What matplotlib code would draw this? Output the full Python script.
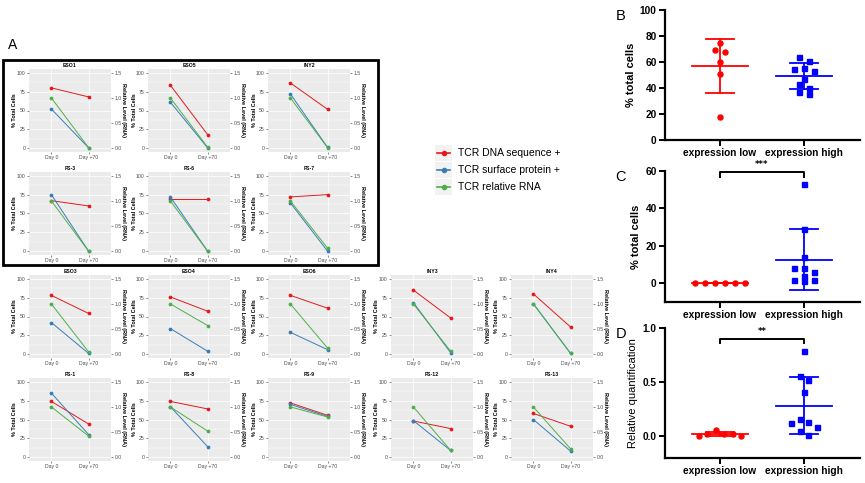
import matplotlib
matplotlib.use("Agg")
import matplotlib.pyplot as plt
from matplotlib.patches import Rectangle
from matplotlib.lines import Line2D
import numpy as np

W, H = 865, 483

# ---------------- data: panel A ----------------
samples = ["ESO1", "ESO5", "INY2", "FS-3", "FS-6", "FS-7",
           "ESO3", "ESO4", "ESO6", "INY3", "INY4",
           "FS-1", "FS-8", "FS-9", "FS-12", "FS-13"]
days = ["Day 0", "Day +70"]
dna_day0 = [80, 83.5, 86.5, 67, 69, 72, 78, 76, 78, 85, 80, 74, 74, 72, 48, 58]
dna_day70 = [68, 18, 51.5, 60, 69, 75, 54, 57, 61, 48, 36, 44, 64, 55.5, 38, 41]
prot_day0 = [52, 61, 72, 75, 72, 64, 42, 34, 29, 68.5, 67, 85, 67, 70, 48.5, 50]
prot_day70 = [0.5, 0.5, 1, 0, 0, 0, 1, 4, 6, 2, 1, 30, 14, 54, 9, 8]
rna_day0 = [1.0] * 16
rna_day70 = [0.01, 0.02, 0.01, 0.0, 0.0, 0.06, 0.045, 0.57, 0.12, 0.06, 0.015,
             0.42, 0.52, 0.80, 0.135, 0.165]
series_names = ["TCR DNA sequence +", "TCR surface protein +", "TCR relative RNA"]

# ---------------- data: panels B, C, D ----------------
groups = ["expression low", "expression high"]
b_low = [75, 69, 68, 60, 51, 18]
b_high = [63.6, 60.8, 55.6, 54.6, 53, 47, 43, 39.7, 37, 35.4]
c_low = [0.2, 0.3, 0.2, 0.3, 0.2, 0.3]
c_high = [53, 29, 14, 8, 8, 6, 4, 2, 2, 1]
d_low = [0.055, 0.025, 0.02, 0.025, 0.0, 0.0]
d_high = [0.79, 0.56, 0.52, 0.41, 0.16, 0.13, 0.12, 0.09, 0.05, 0.01]
c_sig = "***"
d_sig = "**"

# ---------------- styles ----------------
RED, BLUE, GREEN = "#E41A1C", "#377EB8", "#4DAF4A"
SCALE = 100 / 1.5
FAM = "Liberation Sans"

fig = plt.figure(figsize=(W / 100, H / 100), dpi=100)
fig.patch.set_facecolor("white")


def fax(left, top, width, height):
    return fig.add_axes([left / W, 1 - (top + height) / H, width / W, height / H])


col_left = [29, 148, 268, 391, 511]
row_top = [69, 172, 275, 378]
pw, ph = 82, 83
positions = [(0, 0), (0, 1), (0, 2), (1, 0), (1, 1), (1, 2),
             (2, 0), (2, 1), (2, 2), (2, 3), (2, 4),
             (3, 0), (3, 1), (3, 2), (3, 3), (3, 4)]

tick_fs = 3.7
lab_fs = 4.0
for i, name in enumerate(samples):
    r, c = positions[i]
    ax = fax(col_left[c], row_top[r], pw, ph)
    ax.set_facecolor("#EBEBEB")
    for s in ax.spines.values():
        s.set_visible(False)
    ax.set_xlim(0.4, 2.6)
    ax.set_ylim(-5, 105)
    ax.set_yticks([0, 25, 50, 75, 100])
    ax.set_yticks([12.5, 37.5, 62.5, 87.5], minor=True)
    ax.set_xticks([1, 2])
    ax.set_xticklabels(days)
    ax.grid(True, which="major", color="white", lw=0.55)
    ax.grid(True, which="minor", axis="y", color="white", lw=0.3)
    ax.tick_params(which="major", length=1.5, width=0.4, color="#333333",
                   labelsize=tick_fs, labelcolor="#4D4D4D", pad=1)
    ax.tick_params(which="minor", length=0)
    for lb in ax.get_xticklabels() + ax.get_yticklabels():
        lb.set_fontfamily(FAM)
    ax.set_axisbelow(True)
    x = [1, 2]
    ax.plot(x, [dna_day0[i], dna_day70[i]], color=RED, lw=0.7, marker="o", ms=1.7, zorder=3)
    ax.plot(x, [prot_day0[i], prot_day70[i]], color=BLUE, lw=0.7, marker="o", ms=1.7, zorder=3)
    ax.plot(x, [rna_day0[i] * SCALE, rna_day70[i] * SCALE], color=GREEN, lw=0.7,
            marker="o", ms=1.7, zorder=4)
    ax.set_title(name, fontsize=lab_fs - 0.3, fontweight="bold", family=FAM, pad=1.5)
    ax.text(-14 / pw, 0.5, "% Total Cells", transform=ax.transAxes, rotation=90,
            ha="center", va="center", fontsize=lab_fs, fontweight="bold", family=FAM)
    ax.text(1 + 12.5 / pw, 0.5, "Relative Level (RNA)", transform=ax.transAxes,
            rotation=270, ha="center", va="center", fontsize=lab_fs, fontweight="bold",
            family=FAM)
    sec = ax.secondary_yaxis("right", functions=(lambda y: y / SCALE, lambda v: v * SCALE))
    sec.set_yticks([0, 0.5, 1.0, 1.5])
    sec.set_yticklabels(["0.0", "0.5", "1.0", "1.5"])
    for s in sec.spines.values():
        s.set_visible(False)
    sec.tick_params(length=1.5, width=0.4, color="#333333", labelsize=tick_fs,
                    labelcolor="#4D4D4D", pad=1)
    for lb in sec.get_yticklabels():
        lb.set_fontfamily(FAM)

# box around first six panels
fig.add_artist(Rectangle((3 / W, 1 - 265 / H), 375 / W, 205 / H, transform=fig.transFigure,
                         fill=False, edgecolor="black", lw=2))
fig.text(8 / W, 1 - 45 / H, "A", fontsize=10, family=FAM, va="center")

# legend
leg_cols = [RED, BLUE, GREEN]
for k, (nm, col) in enumerate(zip(series_names, leg_cols)):
    yc = 153 + 17 * k
    fig.add_artist(Rectangle((435 / W, 1 - (yc + 8) / H), 17 / W, 16 / H,
                             transform=fig.transFigure, facecolor="#F2F2F2",
                             edgecolor="none"))
    fig.add_artist(Line2D([437 / W, 450 / W], [1 - yc / H, 1 - yc / H], color=col, lw=1.2,
                          transform=fig.transFigure))
    fig.add_artist(Line2D([443.5 / W], [1 - yc / H], color=col, marker="o", ms=3,
                          transform=fig.transFigure))
    fig.text(458 / W, 1 - yc / H, nm, fontsize=7.5, family=FAM, va="center")


# ---------------- B, C, D ----------------
def swarm(vals, ppu, step=0.12, h=5.0):
    order = sorted(range(len(vals)), key=lambda j: -vals[j])
    offs = [0.0] * len(vals)
    rows, cur = [], []
    for j in order:
        if cur and (vals[cur[0]] - vals[j]) * ppu >= h:
            rows.append(cur)
            cur = []
        cur.append(j)
    if cur:
        rows.append(cur)
    for rw in rows:
        n = len(rw)
        slots = [(k - (n - 1) / 2) * step for k in range(n)]
        slots.sort(key=lambda o: (abs(o), o))
        for k, j in enumerate(rw):
            offs[j] = slots[k]
    return offs


def dot_panel(top, bottom, ylim, yticks, yticklabels, low, high, ylabel, letter,
              ylabel_weight="bold", sig=None, sig_y=None, h=5.0, step=0.12):
    ax = fax(665, top, 195, bottom - top)
    ax.set_xlim(-0.655, 1.667)
    ax.set_ylim(*ylim)
    ppu = (bottom - top) / (ylim[1] - ylim[0])
    for g, (vals, col, mk) in enumerate([(low, "#FF0000", "o"), (high, "#0000FF", "s")]):
        offs = swarm(vals, ppu, step=step, h=h)
        ax.plot([g + o for o in offs], vals, ls="none", marker=mk, ms=3.6, color=col,
                zorder=3, clip_on=False)
        m = np.mean(vals)
        sd = np.std(vals, ddof=1)
        ax.plot([g - 0.33, g + 0.33], [m, m], color=col, lw=1.3, zorder=2)
        ax.plot([g, g], [m - sd, m + sd], color=col, lw=1.3, zorder=2)
        for v in (m - sd, m + sd):
            ax.plot([g - 0.17, g + 0.17], [v, v], color=col, lw=1.3, zorder=2)
    for s in ["top", "right"]:
        ax.spines[s].set_visible(False)
    for s in ["left", "bottom"]:
        ax.spines[s].set_linewidth(1.6)
    ax.set_xticks([0, 1])
    ax.set_xticklabels(groups)
    ax.set_yticks(yticks)
    ax.set_yticklabels(yticklabels)
    ax.tick_params(length=4, width=1.4, pad=2)
    for lb in ax.get_xticklabels() + ax.get_yticklabels():
        lb.set_fontfamily(FAM)
        lb.set_fontweight("bold")
        lb.set_fontsize(7.3)
    ax.set_ylabel(ylabel, fontsize=8, fontweight=ylabel_weight, family=FAM, labelpad=3)
    ax.patch.set_alpha(0)
    fig.text(621 / W, 1 - (top + 6) / H, letter, fontsize=10.5, family=FAM,
             va="center", ha="center")
    if sig is not None:
        tk = (ylim[1] - ylim[0]) * 0.035
        ax.plot([0, 0, 1, 1], [sig_y - tk, sig_y, sig_y, sig_y - tk], color="black", lw=1.4,
                clip_on=False)
        ax.text(0.5, sig_y + tk * 0.6, sig, ha="center", va="bottom", fontsize=6,
                fontweight="bold", clip_on=False)
    return ax


dot_panel(10, 140, (0, 100), [0, 20, 40, 60, 80, 100], ["0", "20", "40", "60", "80", "100"],
          b_low, b_high, "% total cells", "B")
dot_panel(171, 302, (-10, 60), [0, 20, 40, 60], ["0", "20", "40", "60"],
          c_low, c_high, "% total cells", "C", sig=c_sig, sig_y=59.5)
dot_panel(328, 458, (-0.2, 1.0), [0.0, 0.5, 1.0], ["0.0", "0.5", "1.0"],
          d_low, d_high, "Relative quantification", "D", ylabel_weight="normal",
          sig=d_sig, sig_y=0.9, h=8.0, step=0.1)

fig.savefig("out.png", dpi=100)
